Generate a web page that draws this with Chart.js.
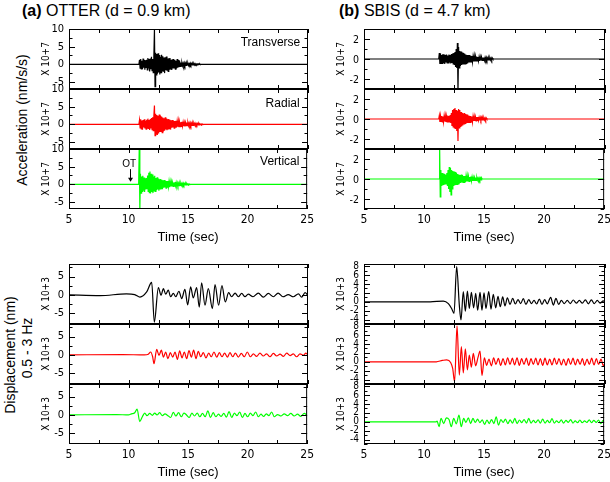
<!DOCTYPE html>
<html>
<head>
<meta charset="utf-8">
<script src="https://cdn.jsdelivr.net/npm/chart.js@4.4.1/dist/chart.umd.min.js"></script>
<style>
  body { margin: 0; background: #fff; }
  #fig { position: relative; width: 610px; height: 482px; overflow: hidden; font-family: "Liberation Sans", Arial, sans-serif; color: #000; }
  #fig canvas { position: absolute; }
  .txt { position: absolute; white-space: nowrap; }
  .rot { transform: translate(-50%, -50%) rotate(-90deg); }
  .ylab { position: absolute; width: 30px; height: 14px; line-height: 14px; text-align: right; z-index: 10;
          font-family: "Liberation Sans Narrow", "DejaVu Sans Condensed", sans-serif; font-size: 10.5px; color: #000; }
</style>
</head>
<body>
<div id="fig">
  <div class="txt" style="left:22px; top:2px; font-size:16px;"><b>(a)</b> OTTER (d = 0.9 km)</div>
  <div class="txt" style="left:339px; top:2px; font-size:16px;"><b>(b)</b> SBIS (d = 4.7 km)</div>
  <div class="txt rot" style="left:22px; top:120px; font-size:14px;">Acceleration (nm/s/s)</div>
  <div class="txt rot" style="left:10px; top:355px; font-size:14px;">Displacement (nm)</div>
  <div class="txt rot" style="left:27px; top:348px; font-size:14px;">0.5 - 3 Hz</div>
</div>
<script>
// time axis
const T_MIN = 5, T_MAX = 25, T_TICK = 5, T_MINOR = 2.5;
const ACC_DT = 0.05;   // spacing of the acceleration samples (s)

// ---- acceleration, x 10^7 nm/s/s (samples every ACC_DT from the start time) ----
const otterAccT0 = 10.85;
const otterAccT = [0,1.3,-1.1,1.5,-1.3,1.0,-1.4,1.6,-1.0,1.2,-1.5,1.1,-0.9,1.3,-1.6,1.8,-1.2,1.5,-2.0,1.6,-1.4,2.1,-1.8,1.5,-2.4,2.0,
  9.8,-6.3,3.3,-3.0,2.9,-2.7,3.1,-2.3,2.6,-2.9,2.1,-2.4,2.7,-1.9,2.3,-2.1,1.9,-2.5,2.0,-1.7,2.2,-1.8,1.6,-2.0,1.7,-1.4,1.8,-1.5,
  1.3,-1.6,1.4,-1.2,1.5,-1.0,1.3,-1.4,1.0,-1.2,1.5,-1.0,1.2,-0.8,1.0,-0.6,0.5,-0.5,0.4,-0.4,0.3,-0.4,0.4,-0.3,0.3,-0.3,0.3,-0.2,
  0.3,-0.3,0.2,-0.2,0.3,-0.2,0.2,-0.2,0.2,-0.2,0.2,-0.2,0.2,-0.1,0.1,-0.1,0.1,-0.1,0.1,0,0.1,-0.1,0];
const otterAccR0 = 10.85;
const otterAccR = [0,1.2,-1.0,1.4,-1.3,1.1,-1.5,1.2,-0.9,1.4,-1.2,1.0,-1.4,1.3,-1.1,1.6,-1.3,1.2,-1.6,1.5,-1.2,1.8,-1.5,2.0,-1.8,2.3,
  5.3,-3.2,3.0,-2.8,2.6,-3.0,2.4,-2.6,2.8,-2.2,2.5,-2.0,2.2,-2.4,1.9,-2.0,1.7,-1.8,2.0,-1.5,1.6,-1.7,1.4,-1.3,1.5,-1.2,1.3,
  -1.5,1.1,-1.0,1.2,-0.9,1.0,-1.1,0.9,-0.8,1.0,-0.9,0.8,-0.7,0.9,-0.8,0.7,-0.7,0.6,-0.6,0.7,-0.5,0.6,-0.5,0.5,-0.6,0.5,-0.4,
  0.5,-0.4,0.4,-0.4,0.4,-0.3,0.4,-0.3,0.3,-0.3,0.3,-0.3,0.3,-0.2,0.3,-0.2,0.2,-0.2,0.2,-0.2,0.2,-0.2,0.1,-0.1,0.1,-0.1,0.1,0];
const otterAccV0 = 10.85;
const otterAccV = [0,10.5,-7.5,3.0,-2.5,2.2,-2.0,2.4,-1.8,1.9,-2.2,1.7,-1.5,1.8,-1.4,2.5,-2.0,3.3,-2.4,3.6,-2.6,3.0,-2.2,2.8,
  -2.5,2.2,-1.9,2.4,-2.0,1.8,-1.7,2.0,-1.5,1.6,-1.8,1.4,-1.3,1.5,-1.2,1.3,-1.4,1.1,-1.0,1.2,-0.9,1.0,-1.1,0.9,-0.8,0.9,-0.7,
  0.8,-0.8,0.7,-0.6,0.7,-0.6,0.5,-0.6,0.5,-0.5,0.6,-0.4,0.5,-0.4,0.4,-0.4,0.3,-0.4,0.3,-0.3,0.3,-0.3,0.3,-0.2,0.3,-0.2,0.2,
  -0.2,0.2,-0.2,0.2,-0.1,0.1,-0.1,0.1,0];
const sbisAccT0 = 11.2;
const sbisAccT = [0,0.6,-0.5,0.55,-0.45,0.4,-0.45,0.5,-0.4,0.45,-0.5,0.4,-0.35,0.45,-0.4,0.35,-0.4,0.45,-0.35,0.4,-0.45,0.5,
  -0.4,0.55,-0.5,0.6,-0.55,0.7,-0.8,1.0,-0.9,1.6,-3.2,1.2,-0.9,0.8,-0.7,0.75,-0.6,0.65,-0.55,0.6,-0.5,0.55,-0.5,0.45,-0.5,0.4,
  -0.45,0.4,-0.35,0.4,-0.3,0.35,-0.3,0.3,-0.3,0.25,-0.25,0.3,-0.25,0.25,-0.2,0.25,-0.2,0.2,-0.2,0.2,-0.2,0.2,-0.15,0.2,-0.15,
  0.15,-0.15,0.15,-0.15,0.15,-0.1,0.15,-0.1,0.1,-0.1,0.1,-0.1,0.1,-0.1,0.1,-0.1,0.1,0];
const sbisAccR0 = 11.2;
const sbisAccR = [0,0.35,-0.3,0.3,-0.25,0.3,-0.3,0.25,-0.3,0.3,-0.25,0.3,-0.3,0.25,-0.3,0.35,-0.3,0.3,-0.35,0.4,-0.4,0.6,
  -0.7,0.9,-0.8,1.0,-0.9,1.1,-1.0,0.9,-1.2,0.8,-2.2,1.0,-0.9,0.9,-0.8,0.7,-0.75,0.6,-0.65,0.55,-0.5,0.6,-0.45,0.5,-0.4,0.45,
  -0.4,0.35,-0.4,0.3,-0.35,0.3,-0.3,0.25,-0.3,0.25,-0.2,0.25,-0.2,0.2,-0.2,0.2,-0.15,0.2,-0.15,0.15,-0.15,0.15,-0.1,0.15,
  -0.1,0.1,-0.1,0.1,-0.1,0.1,-0.1,0.1,0];
const sbisAccV0 = 11.25;
const sbisAccV = [0,3.2,-1.8,0.9,-0.7,0.6,-0.65,0.55,-0.6,0.5,-0.5,0.45,-0.5,0.6,-0.7,0.9,-1.0,1.2,-1.3,1.1,-1.6,0.9,-1.0,
  0.8,-0.7,0.75,-0.65,0.7,-0.6,0.6,-0.55,0.5,-0.5,0.45,-0.45,0.4,-0.4,0.45,-0.35,0.4,-0.35,0.3,-0.35,0.3,-0.3,0.3,-0.25,0.3,
  -0.25,0.25,-0.25,0.2,-0.2,0.25,-0.2,0.2,-0.2,0.15,-0.2,0.15,-0.15,0.15,-0.15,0.15,-0.1,0.1,-0.1,0.1,-0.1,0.1,-0.1,0.1,0];

// ---- displacement 0.5-3 Hz, x 10^3 nm : [time, value] at peaks and troughs ----
const otterDispT = [[5,0],[7.6,-0.2],[9.8,0.3],[10.5,0.1],[10.94,-0.6],[11.5,0.8],[11.92,3.4],[12.14,-7.4],[12.48,2.0],[12.7,-0.1],
  [12.9,1.7],[13.09,0.2],[13.31,1.3],[13.5,-0.5],[13.73,0.4],[13.93,-0.5],[14.2,1.0],[14.43,-1.0],[14.7,1.5],[14.93,-2.7],
  [15.18,2.2],[15.4,-0.8],[15.68,2.0],[15.9,-3.3],[16.1,3.3],[16.38,-2.8],[16.66,1.7],[17.0,-3.7],[17.22,2.8],[17.52,-2.8],
  [17.8,2.5],[18.08,-1.9],[18.36,0.6],[18.61,-0.5],[18.9,0.5],[19.17,-0.5],[19.45,0.4],[19.73,-0.5],[20.0,0.2],[20.4,-0.5],
  [20.84,0.5],[21.26,-0.6],[21.68,0.4],[22.1,-0.5],[22.5,0.5],[22.9,-0.5],[23.35,0.1],[23.77,-0.5],[24.2,0.3],[24.47,-0.6],
  [24.75,0.6],[25,-0.1]];
const otterDispR = [[5,0],[9.5,0.1],[11.3,0],[11.64,0.2],[11.83,0.8],[12.0,-0.5],[12.11,-2.4],[12.34,1.5],[12.53,-0.1],[12.73,1.3],
  [12.9,-0.6],[13.09,0.8],[13.28,-1.0],[13.48,0.6],[13.68,-0.6],[13.87,0.8],[14.07,-1.2],[14.26,1.1],[14.46,-0.8],[14.65,0.8],
  [14.85,-1.0],[15.04,1.2],[15.24,-0.6],[15.43,1.3],[15.63,-1.0],[15.82,1.0],[16.02,-0.5],[16.24,0.6],[16.46,-0.8],[16.69,0.5],
  [16.91,-0.5],[17.13,0.8],[17.36,-0.6],[17.58,0.6],[17.8,-0.5],[18.02,0.5],[18.25,-0.6],[18.47,0.6],[18.7,-0.5],[18.92,0.5],
  [19.17,-0.6],[19.42,0.4],[19.67,-0.5],[19.92,0.8],[20.17,-0.5],[20.43,0.3],[20.7,-0.4],[20.98,0.5],[21.26,-0.3],[21.54,0.3],
  [21.82,-0.5],[22.1,0.4],[22.38,-0.3],[22.66,0.2],[22.94,-0.4],[23.22,0.5],[23.5,-0.2],[23.77,0.3],[24.05,-0.5],[24.33,0.3],
  [24.61,-0.1],[24.83,0.5],[25,-0.1]];
const otterDispV = [[5,0],[9.0,0.1],[10.0,0],[10.24,0.3],[10.52,0.6],[10.72,1.6],[10.94,-1.8],[11.16,-0.5],[11.36,0.5],[11.55,-0.2],
  [11.78,0.4],[12.0,-0.1],[12.2,0.5],[12.39,0],[12.62,0.6],[12.84,-0.2],[13.06,0.3],[13.31,-0.2],[13.54,-0.7],[13.76,0.7],
  [13.98,-0.3],[14.2,0.6],[14.43,-0.5],[14.65,0.5],[14.87,0],[15.1,-0.7],[15.32,0.5],[15.54,-0.3],[15.77,0.5],[15.99,-0.5],
  [16.21,0.4],[16.44,-0.5],[16.66,1.1],[16.88,-0.7],[17.11,0.6],[17.33,-0.5],[17.55,0.2],[17.78,-0.4],[18.0,0.4],[18.22,-0.6],
  [18.44,0.9],[18.67,-0.7],[18.89,0.5],[19.11,-0.2],[19.34,0.8],[19.56,-0.7],[19.78,0.4],[20.0,-0.5],[20.23,0.5],[20.45,-0.2],
  [20.68,0.8],[20.9,-0.5],[21.12,0.2],[21.35,-0.4],[21.57,0.3],[21.79,-0.2],[22.02,0.8],[22.24,-0.5],[22.52,0.1],[22.8,-0.3],
  [23.08,0.3],[23.35,-0.2],[23.63,0.4],[23.91,-0.3],[24.19,0.2],[24.47,-0.4],[24.75,0.4],[25,-0.1]];
const sbisDispT = [[5,0],[10.5,0],[11.58,0.15],[12.0,-0.4],[12.27,-1.5],[12.47,-2.6],[12.69,7.9],[12.91,-0.75],[13.05,-4.1],
  [13.24,2.3],[13.41,-2.1],[13.58,2.4],[13.74,-1.5],[13.91,2.1],[14.1,-1.35],[14.27,1.9],[14.43,-1.9],[14.63,2.1],[14.79,-1.9],
  [14.96,2.0],[15.12,-1.5],[15.35,2.3],[15.54,-1.65],[15.73,1.65],[15.93,-1.35],[16.12,1.2],[16.31,-1.1],[16.51,1.1],[16.7,-0.9],
  [16.9,0.9],[17.12,-0.6],[17.34,0.75],[17.56,-0.5],[17.78,0.5],[18.0,-0.4],[18.22,0.7],[18.44,-0.6],[18.67,0.5],[18.89,-0.4],
  [19.11,0.3],[19.33,-0.5],[19.55,0.6],[19.77,-0.6],[19.99,0.5],[20.21,-0.45],[20.49,1.0],[20.71,-0.75],[20.93,0.75],[21.15,-0.6],
  [21.38,0.3],[21.62,-0.4],[21.87,0.3],[22.12,-0.4],[22.37,0.4],[22.62,-0.3],[22.87,0.3],[23.12,-0.3],[23.37,0.45],[23.62,-0.45],
  [23.87,0.45],[24.11,-0.4],[24.36,0.3],[24.59,-0.3],[24.86,0.2],[25,-0.1]];
const sbisDispR = [[5,0],[11.0,0],[11.5,0.3],[11.86,0.45],[12.19,-0.15],[12.36,-1.5],[12.52,-4.5],[12.72,8.1],[12.91,-3.0],
  [13.08,3.4],[13.24,-2.5],[13.41,2.9],[13.58,-1.8],[13.74,1.5],[13.91,-1.2],[14.07,1.9],[14.27,-0.9],[14.46,1.0],[14.63,2.4],
  [14.79,-3.1],[14.99,0.9],[15.18,-0.8],[15.37,0.6],[15.57,-0.9],[15.76,0.9],[15.95,-0.6],[16.15,0.75],[16.34,-0.8],[16.54,0.7],
  [16.73,-0.7],[16.92,0.9],[17.12,-0.6],[17.31,0.8],[17.5,-0.7],[17.7,0.9],[17.89,-0.8],[18.08,0.7],[18.28,-0.6],[18.47,0.8],
  [18.67,-0.8],[18.86,0.7],[19.05,-0.6],[19.25,0.8],[19.44,-0.7],[19.63,0.7],[19.83,-0.8],[20.02,0.8],[20.21,-0.7],[20.41,0.6],
  [20.6,-0.7],[20.8,0.8],[20.99,-0.6],[21.18,0.7],[21.38,-0.7],[21.57,0.6],[21.76,-0.8],[21.96,0.7],[22.15,-0.6],[22.34,0.8],
  [22.54,-0.7],[22.73,0.6],[22.93,-0.6],[23.12,0.7],[23.31,-0.8],[23.51,0.6],[23.7,-0.6],[23.89,0.8],[24.09,-0.7],[24.28,0.7],
  [24.47,-0.6],[24.67,0.6],[24.86,-0.9],[25,-0.2]];
const sbisDispV = [[5,0],[11.0,0],[11.09,0.15],[11.25,-1.1],[11.42,0.75],[11.64,-0.4],[11.86,0.9],[12.08,0.5],[12.27,-1.1],
  [12.47,0.75],[12.69,-0.45],[12.91,1.5],[13.1,-1.1],[13.3,0.75],[13.49,-0.15],[13.69,0.9],[13.88,-0.4],[14.07,0.75],[14.27,-0.15],
  [14.46,0.6],[14.65,-0.2],[14.85,0.45],[15.04,-0.6],[15.24,0.4],[15.43,-0.4],[15.62,0.5],[15.82,-0.4],[16.01,1.1],[16.2,-0.75],
  [16.4,0.5],[16.59,-0.15],[16.78,0.6],[16.98,-0.4],[17.17,0.45],[17.37,-0.3],[17.56,0.75],[17.75,-0.4],[17.95,0.4],[18.14,-0.2],
  [18.33,0.5],[18.53,-0.3],[18.72,0.75],[18.91,-0.3],[19.11,0.3],[19.3,-0.2],[19.5,0.45],[19.69,-0.3],[19.88,0.6],[20.08,-0.3],
  [20.27,0.3],[20.46,-0.2],[20.66,0.7],[20.85,-0.3],[21.04,0.2],[21.24,-0.2],[21.43,0.45],[21.62,-0.3],[21.82,0.3],[22.01,-0.15],
  [22.21,0.5],[22.4,-0.3],[22.59,0.2],[22.79,-0.2],[22.98,0.4],[23.17,-0.2],[23.37,0.2],[23.56,-0.15],[23.76,0.45],[23.95,-0.2],
  [24.14,0.3],[24.34,-0.15],[24.53,0.4],[24.72,-0.4],[24.92,0.3],[25,0]];

// y tick labels
const otterAccTicks = [-5, 0, 5, 10];
const otterDispTicks = [-5, 0, 5];
const sbisAccTicks = [-2, 0, 2];
const sbisDispTicks = [-4, -2, 0, 2, 4, 6, 8];

const NARROW = '"Liberation Sans Narrow", "DejaVu Sans Condensed", sans-serif';
const SANS = '"Liberation Sans", Arial, sans-serif';

// frame, inward ticks on all four sides, y tick labels and panel notes
const frameTicks = {
  id: 'frameTicks',
  afterDraw(chart, args, o) {
    const { ctx, chartArea: a, scales: { x, y } } = chart;
    const major = Array.from(o.major);
    ctx.save();
    ctx.strokeStyle = '#000';
    ctx.lineWidth = 1;
    ctx.strokeRect(a.left + 0.5, a.top + 0.5, a.right - a.left - 1, a.bottom - a.top - 1);
    ctx.beginPath();
    for (let t = T_MIN; t <= T_MAX + 1e-6; t += T_MINOR) {
      const px = Math.round(x.getPixelForValue(t)) + 0.5;
      ctx.moveTo(px, a.top); ctx.lineTo(px, a.top + 4);
      ctx.moveTo(px, a.bottom); ctx.lineTo(px, a.bottom - 4);
    }
    for (let v = Math.ceil(y.min / o.minor) * o.minor; v <= y.max + 1e-6; v += o.minor) {
      const py = Math.round(y.getPixelForValue(v)) + 0.5;
      const len = major.includes(+v.toFixed(3)) ? 6 : 3.5;
      ctx.moveTo(a.left, py); ctx.lineTo(a.left + len, py);
      ctx.moveTo(a.right, py); ctx.lineTo(a.right - len, py);
    }
    ctx.stroke();
    ctx.fillStyle = '#000000';
    ctx.textBaseline = 'middle';
    // y tick labels, placed with the y scale
    if (o.labelSize) {
      ctx.font = o.labelSize + 'px ' + NARROW;
      ctx.textAlign = 'right';
      major.forEach(v => ctx.fillText(String(v), a.left - 5, y.getPixelForValue(v)));
    }
    (o.notes || []).forEach(n => {
      ctx.font = n.size + 'px ' + SANS;
      ctx.textAlign = n.align;
      ctx.fillText(n.text, x.getPixelForValue(n.x), y.getPixelForValue(n.y));
    });
    if (o.arrow) {
      const ax = Math.round(x.getPixelForValue(o.arrow.x)) + 0.5;
      const y1 = y.getPixelForValue(o.arrow.y1), y2 = y.getPixelForValue(o.arrow.y2);
      ctx.beginPath(); ctx.moveTo(ax, y1); ctx.lineTo(ax, y2 - 3); ctx.stroke();
      ctx.beginPath(); ctx.moveTo(ax - 2.5, y2 - 4); ctx.lineTo(ax + 2.5, y2 - 4); ctx.lineTo(ax, y2); ctx.closePath(); ctx.fill();
    }
    ctx.restore();
  }
};

const stepPoints = (t0, vals) => [{ x: T_MIN, y: 0 }]
  .concat(vals.map((v, i) => ({ x: +(t0 + i * ACC_DT).toFixed(2), y: v })))
  .concat([{ x: T_MAX, y: 0 }]);
const pairPoints = pairs => pairs.map(([x, y]) => ({ x, y }));

const fig = document.getElementById('fig');

function panel(p) {
  const padTop = 12;
  const padBottom = p.bottomAxis ? 2 : 12;
  const xAxisH = p.bottomAxis ? 38 : 0;
  const cvLeft = p.left - 31, cvTop = p.top - padTop;
  const cv = document.createElement('canvas');
  cv.width = 31 + p.plotW + 10;
  cv.height = padTop + 60 + xAxisH + padBottom;
  cv.style.left = cvLeft + 'px';
  cv.style.top = cvTop + 'px';
  cv.style.zIndex = p.z;
  fig.appendChild(cv);

  const chart = new Chart(cv.getContext('2d'), {
    type: 'line',
    data: {
      datasets: [{
        data: p.points,
        borderColor: p.color,
        borderWidth: 1.2,
        pointRadius: 0,
        tension: p.smooth ? 0.4 : 0,
        cubicInterpolationMode: p.smooth ? 'monotone' : 'default'
      }]
    },
    options: {
      responsive: false,
      animation: false,
      layout: { padding: { top: padTop, bottom: padBottom, left: 0, right: 10 } },
      plugins: {
        legend: { display: false },
        tooltip: { enabled: false },
        frameTicks: { minor: p.minor, major: p.ticks.slice(), labelSize: p.htmlLabels ? 0 : (p.tickSize || 11), notes: p.notes || [], arrow: p.arrow || false }
      },
      scales: {
        x: {
          type: 'linear', min: T_MIN, max: T_MAX,
          display: !!p.bottomAxis,
          grid: { display: false, drawTicks: false },
          border: { display: false },
          ticks: { stepSize: T_TICK, padding: 4, maxRotation: 0, color: '#000', font: { family: NARROW, size: 12 } },
          title: { display: true, text: 'Time (sec)', color: '#000', font: { family: SANS, size: 13 }, padding: { top: 0, bottom: 2 } },
          afterFit: s => { s.height = xAxisH; }
        },
        y: {
          type: 'linear', min: p.min, max: p.max,
          afterBuildTicks: s => { s.ticks = p.ticks.map(v => ({ value: v })); },
          grid: { display: false, drawTicks: false },
          border: { display: false },
          ticks: { display: false },
          title: { display: true, text: p.unit, color: '#000', font: { family: NARROW, size: 10 }, padding: { top: 2, bottom: 0 } },
          afterFit: s => { s.width = 31; }
        }
      }
    },
    plugins: [frameTicks]
  });

  // tick labels as page text, placed with the chart's own y scale
  if (p.htmlLabels) {
    const a = chart.chartArea, y = chart.scales.y;
    p.ticks.forEach(v => {
      const d = document.createElement('div');
      d.className = 'ylab';
      d.textContent = String(v);
      d.style.left = (cvLeft + a.left - 5 - 30) + 'px';
      d.style.top = (cvTop + y.getPixelForValue(v) - 7) + 'px';
      fig.appendChild(d);
    });
  }
}

const L = 69, LW = 239, R = 364, RW = 241;
const accTops = [29, 89, 149], dispTops = [264, 324, 384];
const colors = ['#000000', '#ff0000', '#00ff00'];

// OTTER acceleration
const otterAcc = [stepPoints(otterAccT0, otterAccT), stepPoints(otterAccR0, otterAccR), stepPoints(otterAccV0, otterAccV)];
const otterNotes = [
  [{ text: 'Transverse', x: 24.35, y: 6.2, align: 'right', size: 12 }],
  [{ text: 'Radial', x: 24.3, y: 5.8, align: 'right', size: 12 }],
  [{ text: 'Vertical', x: 24.35, y: 6.3, align: 'right', size: 12 }, { text: 'OT', x: 10.05, y: 5.8, align: 'center', size: 10 }]
];
otterAcc.forEach((pts, i) => panel({
  left: L, plotW: LW, top: accTops[i], points: pts, color: colors[i], z: 1,
  min: -7, max: 10, ticks: otterAccTicks, minor: 2.5, unit: 'X 10+7',
  notes: otterNotes[i], arrow: i === 2 ? { x: 10.1, y1: 4.3, y2: 0.7 } : null, bottomAxis: i === 2
}));

// SBIS acceleration
const sbisAcc = [stepPoints(sbisAccT0, sbisAccT), stepPoints(sbisAccR0, sbisAccR), stepPoints(sbisAccV0, sbisAccV)];
sbisAcc.forEach((pts, i) => panel({
  left: R, plotW: RW, top: accTops[i], points: pts, color: colors[i], z: 3, htmlLabels: true,
  min: -3, max: 3, ticks: sbisAccTicks, minor: 1, unit: 'X 10+7', bottomAxis: i === 2
}));

// OTTER displacement
const otterDisp = [otterDispT, otterDispR, otterDispV];
otterDisp.forEach((pairs, i) => panel({
  left: L, plotW: LW, top: dispTops[i], points: pairPoints(pairs), color: colors[i], smooth: true, z: 1,
  min: -7.9, max: 8.4, ticks: otterDispTicks, minor: 2.5, unit: 'X 10+3', bottomAxis: i === 2
}));

// SBIS displacement
const sbisDisp = [sbisDispT, sbisDispR, sbisDispV];
sbisDisp.forEach((pairs, i) => panel({
  left: R, plotW: RW, top: dispTops[i], points: pairPoints(pairs), color: colors[i], smooth: true, z: 3,
  min: -5, max: 8.5, ticks: sbisDispTicks, minor: 1, unit: 'X 10+3', tickSize: 10, bottomAxis: i === 2
}));
</script>
</body>
</html>
